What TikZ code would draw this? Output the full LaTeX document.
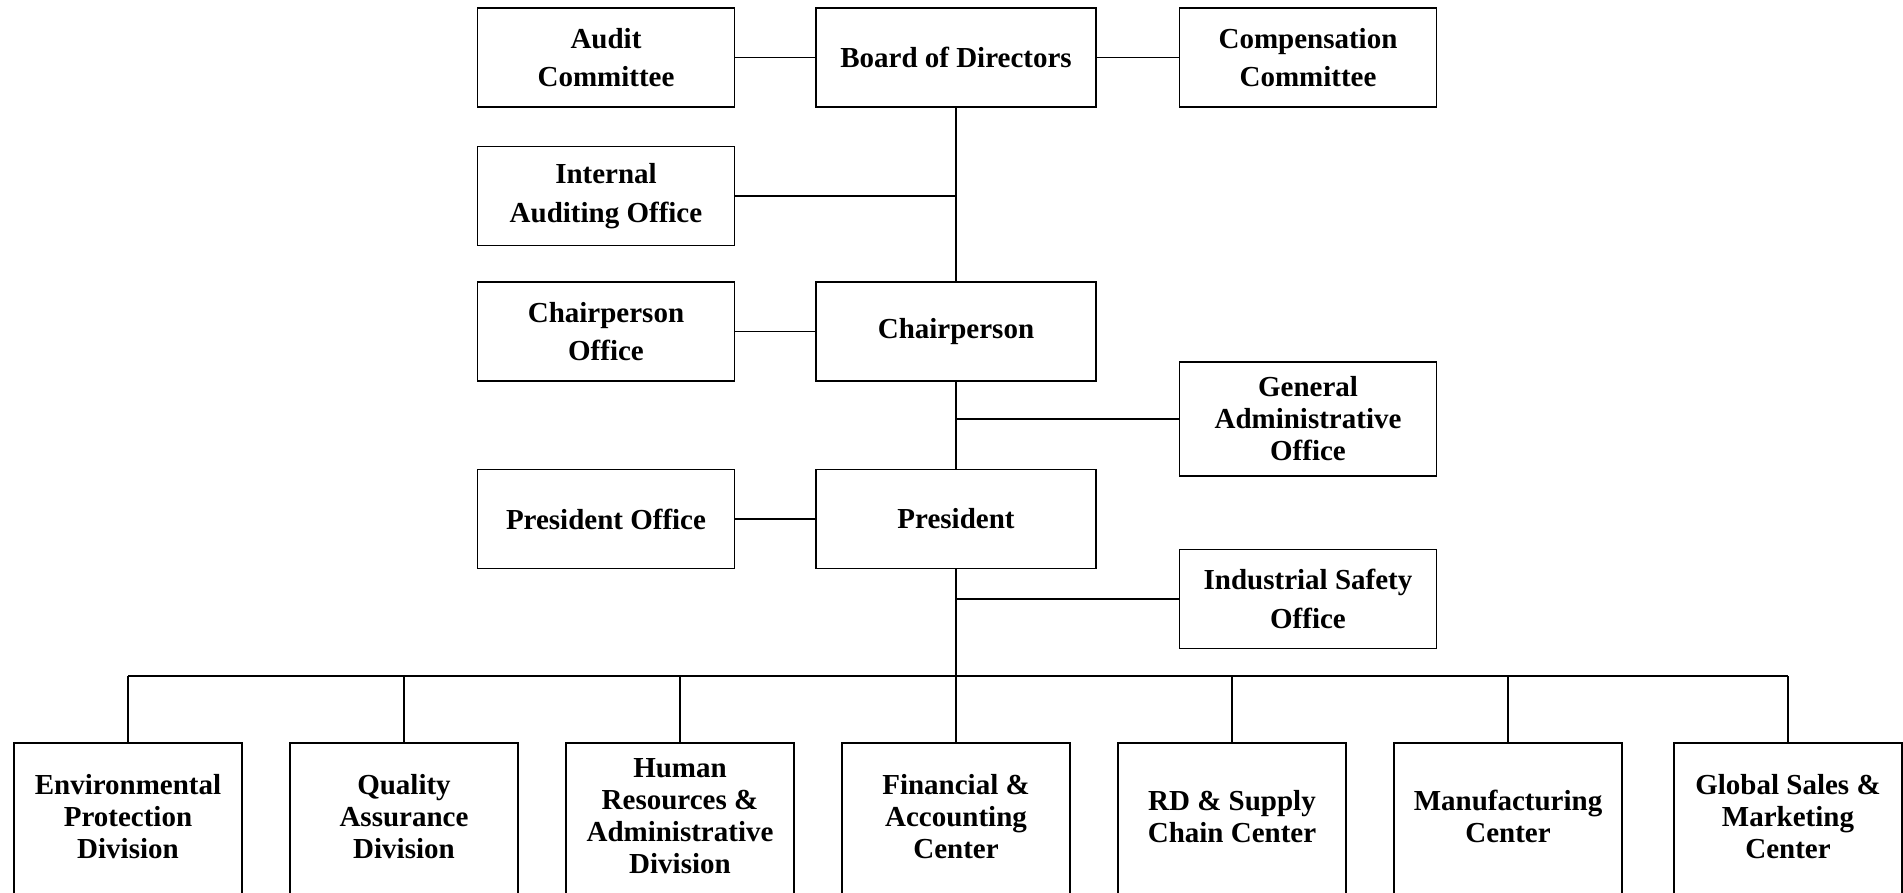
\documentclass[tikz,border=0pt]{standalone}
\usepackage{fontspec}
\setmainfont{Liberation Serif}
\usetikzlibrary{positioning}

\tikzset{
  unit/.style={draw, line width=0.9pt, align=center, inner sep=3pt,
    font=\fontsize{14.5pt}{19.2pt}\selectfont\bfseries},
  tight/.style={font=\fontsize{14.5pt}{16pt}\selectfont\bfseries},
  office/.style={unit, minimum width=128.5pt, minimum height=49.5pt},
  head/.style={unit, minimum width=140pt, minimum height=49.5pt},
  division/.style={unit, tight, minimum width=114pt, minimum height=80pt, text depth=7pt},
  link/.style={line width=0.6pt},
  bus/.style={line width=1.2pt}
}

\begin{document}
\begin{tikzpicture}[x=0.5pt,y=-0.5pt,on grid]
  \useasboundingbox (0,0) rectangle (1903,893);
  % top levels
  \node[head] (board) at (956,57.5) {Board of Directors};
  \node[office] (audit) [left=175pt of board] {Audit\\Committee};
  \node[office] (comp) [right=176pt of board] {Compensation\\Committee};
  \node[head] (chair) [below=137pt of board] {Chairperson};
  \node[office] (chairoff) [left=175pt of chair] {Chairperson\\Office};
  \node[office] (internal) [above=67.75pt of chairoff] {Internal\\Auditing Office};
  \node[office, tight, minimum height=57pt] (genadmin) [below right=43.75pt and 176pt of chair] {General\\Administrative\\Office};
  \node[head] (pres) [below=93.75pt of chair] {President};
  \node[office] (presoff) [left=175pt of pres] {President Office};
  \node[office] (safety) [below right=40pt and 176pt of pres] {Industrial Safety\\Office};
  % divisions
  \node[division] (fin) [below=152pt of pres] {Financial \&\\Accounting\\Center};
  \node[division] (hr) [left=138pt of fin] {Human\\Resources \&\\Administrative\\Division};
  \node[division] (qa) [left=138pt of hr] {Quality\\Assurance\\Division};
  \node[division] (env) [left=138pt of qa] {Environmental\\Protection\\Division};
  \node[division] (rd) [right=138pt of fin] {RD \& Supply\\Chain Center};
  \node[division] (mfg) [right=138pt of rd] {Manufacturing\\Center};
  \node[division] (sales) [right=140pt of mfg] {Global Sales \&\\Marketing\\Center};

  \path[link]
    (audit) edge (board)
    (board) edge (comp)
            edge (chair)
    (chairoff) edge (chair)
    (chair) edge (pres)
    (presoff) edge (pres)
    (pres) edge (fin);
  \draw[link] (internal.east) -- (internal.east -| board.south);
  \draw[link] (genadmin.west) -- (genadmin.west -| chair.south);
  \draw[link] (safety.west) -- (safety.west -| pres.south);

  \coordinate (busL) at ([yshift=33pt]env.north);
  \coordinate (busR) at ([yshift=33pt]sales.north);
  \draw[bus] (busL) -- (busR);
  \path[link]
    (env) edge (env.north |- busL)
    (qa) edge (qa.north |- busL)
    (hr) edge (hr.north |- busL)
    (rd) edge (rd.north |- busL)
    (mfg) edge (mfg.north |- busL)
    (sales) edge (sales.north |- busL);
\end{tikzpicture}
\end{document}
